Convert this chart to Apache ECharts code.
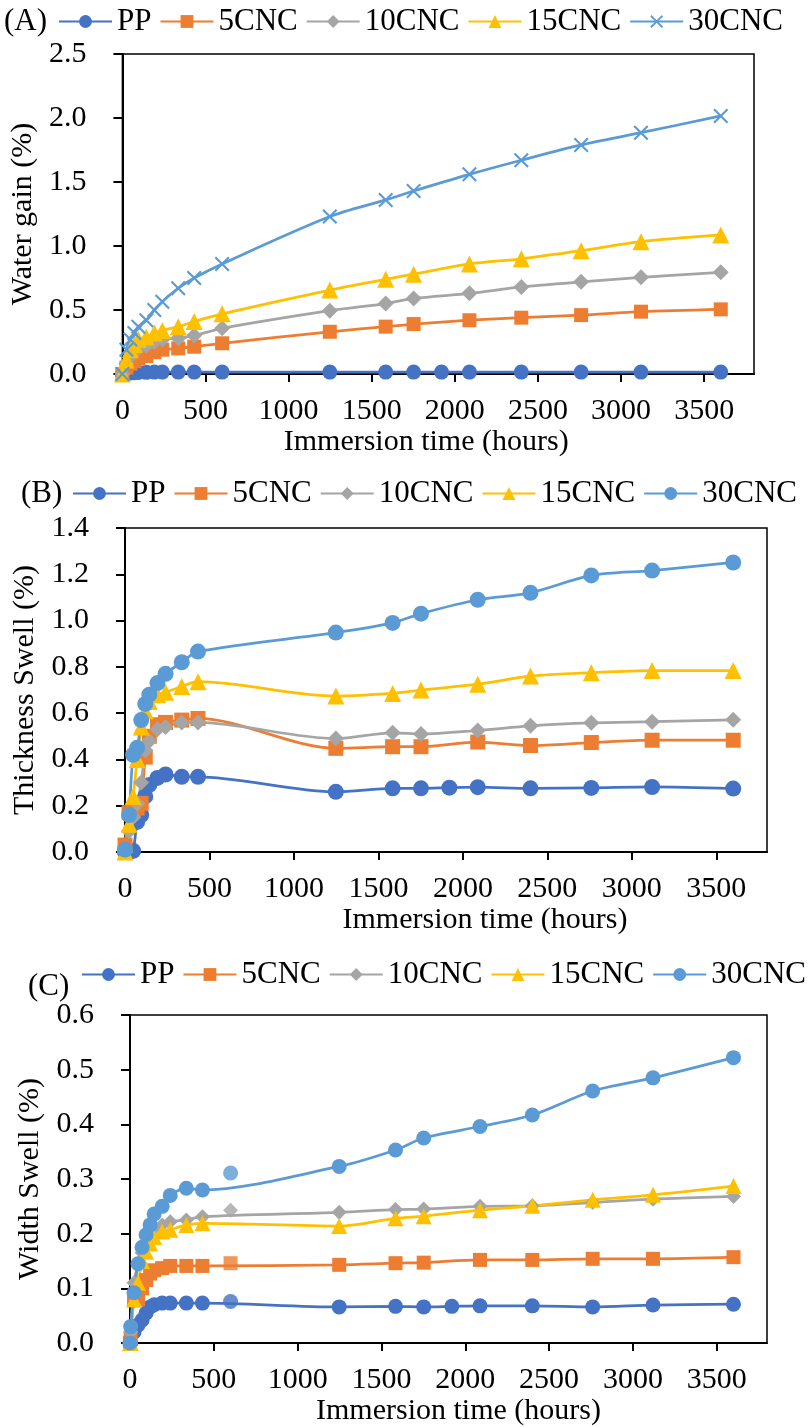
<!DOCTYPE html>
<html>
<head>
<meta charset="utf-8">
<script src="https://cdn.jsdelivr.net/npm/echarts@6/dist/echarts.min.js"></script>
<style>html,body{margin:0;padding:0;background:#fff}#c{width:809px;height:1427px}</style>
</head>
<body>
<div id="c"></div>
<script>
// ---------- data ----------
const seriesNames = ['PP', '5CNC', '10CNC', '15CNC', '30CNC'];
const xTicks = [0, 500, 1000, 1500, 2000, 2500, 3000, 3500];

// (A) Water gain
const timeA = [0, 24, 48, 72, 96, 144, 192, 240, 336, 432, 600, 1248, 1584, 1752, 1920, 2088, 2400, 2760, 3120, 3600];
const gainPP   = [0, 0.005, 0.008, 0.01, 0.012, 0.013, 0.015, 0.015, 0.015, 0.015, 0.015, 0.015, 0.015, 0.015, 0.015, 0.015, 0.015, 0.015, 0.015, 0.015];
const gain5    = [0, 0.05, 0.08, 0.10, 0.12, 0.14, 0.17, 0.19, 0.20, 0.213, 0.24, 0.33, 0.37, 0.39, null, 0.42, 0.44, 0.46, 0.487, 0.505];
const gain10   = [0, 0.08, 0.14, 0.17, 0.20, 0.22, 0.25, 0.27, 0.28, 0.30, 0.357, 0.495, 0.55, 0.59, null, 0.63, 0.68, 0.72, 0.755, 0.794];
const gain15   = [0, 0.11, 0.19, 0.23, 0.27, 0.29, 0.32, 0.34, 0.37, 0.41, 0.47, 0.656, 0.74, 0.78, null, 0.86, 0.90, 0.963, 1.034, 1.086];
const gain30   = [0, 0.19, 0.27, 0.32, 0.37, 0.42, 0.50, 0.565, 0.67, 0.75, 0.86, 1.23, 1.36, 1.43, null, 1.56, 1.67, 1.79, 1.885, 2.016];
const yTicksA = [0, 0.5, 1.0, 1.5, 2.0, 2.5];

// (B) Thickness swell
const timeB = [0, 24, 48, 72, 96, 120, 144, 192, 240, 336, 432, 1248, 1584, 1752, 1920, 2088, 2400, 2760, 3120, 3600];
const thickPP  = [0, 0.0, 0.005, 0.13, 0.16, 0.24, 0.29, 0.32, 0.335, 0.325, 0.325, 0.26, 0.275, 0.275, 0.278, 0.28, 0.275, 0.277, 0.281, 0.274];
const thick5   = [0.03, 0.17, 0.18, 0.19, 0.21, 0.41, 0.50, 0.55, 0.56, 0.57, 0.577, 0.448, 0.455, 0.455, null, 0.475, 0.46, 0.473, 0.483, 0.483];
const thick10  = [0, 0.09, 0.15, 0.21, 0.30, 0.44, 0.48, 0.53, 0.54, 0.56, 0.56, 0.49, 0.515, 0.51, null, 0.525, 0.545, 0.558, 0.563, 0.571];
const thick15  = [0, 0.12, 0.24, 0.40, 0.54, 0.61, 0.65, 0.68, 0.69, 0.715, 0.736, 0.674, 0.685, 0.70, null, 0.725, 0.76, 0.775, 0.784, 0.784];
const thick30  = [0.01, 0.16, 0.42, 0.45, 0.57, 0.64, 0.68, 0.73, 0.77, 0.82, 0.866, 0.948, 0.99, 1.03, null, 1.09, 1.12, 1.195, 1.216, 1.251];
const yTicksB = [0, 0.2, 0.4, 0.6, 0.8, 1.0, 1.2, 1.4];

// (C) Width swell
const timeC = [0, 4, 24, 48, 72, 96, 120, 144, 192, 240, 336, 432, 1248, 1584, 1752, 1920, 2088, 2400, 2760, 3120, 3600];
const widthPP  = [0, 0.0, 0.02, 0.033, 0.042, 0.055, 0.066, 0.07, 0.073, 0.073, 0.073, 0.073, 0.066, 0.067, 0.066, 0.067, 0.068, 0.068, 0.066, 0.0695, 0.071];
const width5   = [0, 0.01, 0.078, 0.08, 0.10, 0.115, 0.127, 0.133, 0.137, 0.141, 0.141, 0.141, 0.143, 0.146, 0.147, null, 0.152, 0.152, 0.154, 0.154, 0.157];
const width10  = [0, 0.02, 0.11, 0.145, 0.165, 0.182, 0.204, 0.21, 0.216, 0.222, 0.225, 0.231, 0.239, 0.244, 0.245, null, 0.25, 0.251, 0.257, 0.263, 0.268];
const width15  = [0, 0.0, 0.08, 0.11, 0.15, 0.167, 0.182, 0.194, 0.204, 0.207, 0.216, 0.219, 0.214, 0.228, 0.232, null, 0.243, 0.251, 0.262, 0.271, 0.287];
const width30  = [0, 0.03, 0.092, 0.145, 0.175, 0.198, 0.216, 0.236, 0.25, 0.27, 0.283, 0.28, 0.323, 0.353, 0.375, null, 0.396, 0.417, 0.461, 0.485, 0.522];
// separate, unconnected readings at 600 h in panel C
const time600C = [600];
const width600PP = [0.076];
const width600_5 = [0.146];
const width600_10 = [0.243];
const width600_30 = [0.311];
const yTicksC = [0, 0.1, 0.2, 0.3, 0.4, 0.5, 0.6];

// ---------- styling ----------
const FONT = '"Liberation Serif", "Times New Roman", serif';
const colors = ['#4472C4', '#ED7D31', '#A5A5A5', '#FFC000', '#5B9BD5'];
const CROSS = 'path://M1,0L5,4L9,0L10,1L6,5L10,9L9,10L5,6L1,10L0,9L4,5L0,1Z';
const symA = ['circle', 'rect', 'diamond', 'triangle', CROSS];
const symBC = ['circle', 'rect', 'diamond', 'triangle', 'circle'];

function pairs(t, v) {
  return t.map((x, i) => [x, v[i]]).filter(p => p[1] !== null && p[1] !== undefined);
}

const grids = [
  {left: 121, top: 54, width: 633, height: 320},
  {left: 125, top: 528, width: 642, height: 324},
  {left: 130, top: 1015, width: 637, height: 328}
];
const yNames = ['Water gain (%)', 'Thickness Swell (%)', 'Width Swell (%)'];
const yMax = [2.5, 1.4, 0.6];
const yInt = [0.5, 0.2, 0.1];
const xNamePad = [[0, 24, 0, 0], [0, 0, 0, 78], [0, 0, 0, 20]];

const xAxes = grids.map((g, i) => ({
  type: 'value', gridIndex: i, min: 0, max: 3800,
  axisLine: {show: true, onZero: false, lineStyle: {color: '#000', width: 2}},
  axisTick: {show: true, length: 8, lineStyle: {color: '#000', width: 2}, customValues: xTicks},
  axisLabel: {customValues: xTicks, fontFamily: FONT, fontSize: 30, color: '#000', margin: 22,
    formatter: v => String(v)},
  splitLine: {show: false},
  name: 'Immersion time (hours)', nameLocation: 'middle', nameGap: 52,
  nameTextStyle: {fontFamily: FONT, fontSize: 30, color: '#000', padding: xNamePad[i]}
}));
const yAxes = grids.map((g, i) => ({
  type: 'value', gridIndex: i, min: 0, max: yMax[i], interval: yInt[i],
  axisLine: {show: true, lineStyle: {color: '#000', width: 2}},
  axisTick: {show: true, length: 9, lineStyle: {color: '#000', width: 2}},
  axisLabel: {fontFamily: FONT, fontSize: 30, color: '#000', margin: 36,
    formatter: v => v.toFixed(1)},
  splitLine: {show: false},
  name: yNames[i], nameLocation: 'middle', nameGap: 84,
  nameTextStyle: {fontFamily: FONT, fontSize: 30, color: '#000'}
}));

const panels = [
  {key: 'A', t: timeA, vals: [gainPP, gain5, gain10, gain15, gain30], sym: symA, size: [15, 14, 16, 17, 15]},
  {key: 'B', t: timeB, vals: [thickPP, thick5, thick10, thick15, thick30], sym: symBC, size: [16, 15, 16, 17, 16]},
  {key: 'C', t: timeC, vals: [widthPP, width5, width10, width15, width30], sym: symBC, size: [15, 14, 15, 16, 15]}
];

const series = [];
panels.forEach((p, gi) => {
  p.vals.forEach((v, si) => {
    series.push({
      name: p.key + '|' + seriesNames[si], type: 'line', xAxisIndex: gi, yAxisIndex: gi,
      data: pairs(p.t, v), smooth: 0.3, symbol: p.sym[si], symbolSize: p.size[si],
      showAllSymbol: true,
      lineStyle: {color: colors[si], width: 2.75},
      itemStyle: {color: colors[si], borderWidth: 0},
      emphasis: {disabled: true}, animation: false
    });
  });
});
const extraC = [[0, width600PP], [1, width600_5], [2, width600_10], [4, width600_30]];
extraC.forEach(([si, v]) => {
  series.push({
    name: 'C|' + seriesNames[si], type: 'scatter', xAxisIndex: 2, yAxisIndex: 2,
    data: pairs(time600C, v), symbol: symBC[si], symbolSize: panels[2].size[si],
    itemStyle: {color: colors[si]}, emphasis: {disabled: true}, animation: false
  });
});

const legendPos = [{left: 58, top: 6}, {left: 72, top: 478}, {left: 81, top: 959}];
const legends = panels.map((p, i) => ({
  data: seriesNames.map(n => p.key + '|' + n),
  left: legendPos[i].left, top: legendPos[i].top, width: 800, orient: 'horizontal',
  itemWidth: 53, itemHeight: 16, itemGap: 8, padding: 0,
  formatter: n => n.split('|')[1],
  textStyle: {fontFamily: FONT, fontSize: 31, color: '#000'},
  selectedMode: false
}));
const titlePos = [{left: 4, top: 6}, {left: 21, top: 478}, {left: 28, top: 971}];
const titles = panels.map((p, i) => ({
  text: '(' + p.key + ')', left: titlePos[i].left, top: titlePos[i].top, padding: 0,
  textStyle: {fontFamily: FONT, fontSize: 31, fontWeight: 'normal', color: '#000'}
}));

const chart = echarts.init(document.getElementById('c'), null, {renderer: 'canvas'});
chart.setOption({
  animation: false,
  backgroundColor: '#fff',
  title: titles,
  legend: legends,
  grid: grids.map(g => Object.assign({show: true, borderColor: '#000', borderWidth: 1.5, backgroundColor: 'transparent'}, g)),
  xAxis: xAxes,
  yAxis: yAxes,
  series: series
});
</script>
</body>
</html>
